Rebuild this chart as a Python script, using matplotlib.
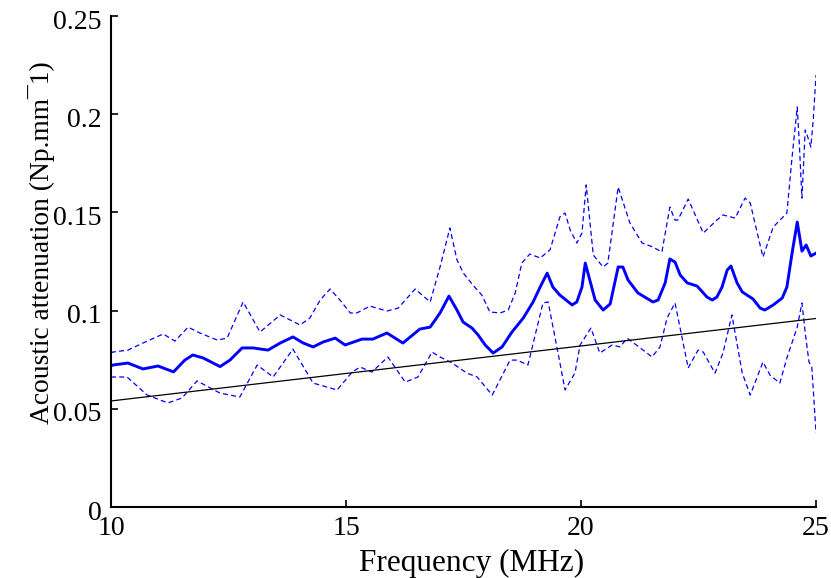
"""
Acoustic attenuation versus frequency: mean curve, spread bounds and linear fit.
"""
import numpy as np
import matplotlib
matplotlib.use('Agg')
import matplotlib.pyplot as plt
from matplotlib.transforms import ScaledTranslation

plt.rcParams['font.family'] = ['Liberation Serif', 'DejaVu Serif']

# mean attenuation (Np/mm)
freq_mean = [10.00, 10.04, 10.36, 10.68, 11.00, 11.33, 11.57, 11.74, 11.96, 12.32,
             12.53, 12.79, 13.02, 13.34, 13.60, 13.87, 14.09, 14.30, 14.51, 14.77,
             14.98, 15.34, 15.57, 15.87, 16.21, 16.57, 16.79, 17.00, 17.19, 17.36,
             17.49, 17.68, 17.81, 17.96, 18.13, 18.32, 18.53, 18.77, 18.98, 19.13,
             19.28, 19.40, 19.55, 19.81, 19.91, 20.02, 20.09, 20.30, 20.47, 20.62,
             20.79, 20.89, 21.00, 21.21, 21.53, 21.64, 21.79, 21.89, 22.00, 22.11,
             22.26, 22.47, 22.68, 22.79, 22.89, 23.00, 23.11, 23.19, 23.32, 23.43,
             23.66, 23.81, 23.91, 24.09, 24.28, 24.38, 24.49, 24.60, 24.70, 24.79,
             24.89, 25.00]
att_mean = [0.0718, 0.0723, 0.0733, 0.0703, 0.0718, 0.0688, 0.0748, 0.0774, 0.0759, 0.0715,
            0.0748, 0.0810, 0.0810, 0.0799, 0.0835, 0.0866, 0.0835, 0.0815, 0.0840, 0.0860,
            0.0825, 0.0855, 0.0855, 0.0886, 0.0835, 0.0906, 0.0916, 0.0988, 0.1074, 0.1003,
            0.0942, 0.0911, 0.0876, 0.0825, 0.0784, 0.0815, 0.0891, 0.0962, 0.1044, 0.1120,
            0.1191, 0.1120, 0.1079, 0.1029, 0.1044, 0.1120, 0.1242, 0.1054, 0.1003, 0.1034,
            0.1222, 0.1222, 0.1156, 0.1090, 0.1044, 0.1054, 0.1141, 0.1263, 0.1247, 0.1181,
            0.1141, 0.1125, 0.1069, 0.1054, 0.1069, 0.1120, 0.1207, 0.1227, 0.1141, 0.1095,
            0.1059, 0.1013, 0.1003, 0.1029, 0.1064, 0.1120, 0.1293, 0.1451, 0.1303, 0.1334,
            0.1278, 0.1293]

# upper bound
freq_up = [10.00, 10.04, 10.36, 10.68, 11.11, 11.36, 11.64, 11.89, 12.26, 12.47,
           12.81, 13.17, 13.60, 14.02, 14.23, 14.45, 14.66, 14.87, 15.09, 15.23,
           15.51, 15.87, 16.11, 16.47, 16.62, 16.79, 17.00, 17.21, 17.36, 17.50,
           17.70, 17.89, 18.06, 18.28, 18.45, 18.60, 18.74, 18.91, 19.13, 19.34,
           19.55, 19.66, 19.77, 19.91, 20.02, 20.11, 20.26, 20.47, 20.57, 20.79,
           21.04, 21.30, 21.53, 21.72, 21.89, 22.00, 22.06, 22.28, 22.60, 22.89,
           23.02, 23.28, 23.49, 23.60, 23.87, 24.09, 24.38, 24.49, 24.60, 24.64,
           24.70, 24.77, 24.83, 24.89, 24.94, 25.00]
att_up = [0.0785, 0.0789, 0.0799, 0.0835, 0.0881, 0.0845, 0.0916, 0.0886, 0.0850, 0.0860,
          0.1044, 0.0891, 0.0978, 0.0927, 0.0962, 0.1054, 0.1110, 0.1054, 0.0988, 0.0988,
          0.1023, 0.0998, 0.1013, 0.1110, 0.1079, 0.1044, 0.1222, 0.1421, 0.1258, 0.1190,
          0.1130, 0.1079, 0.0993, 0.0988, 0.1003, 0.1090, 0.1242, 0.1288, 0.1268, 0.1309,
          0.1477, 0.1497, 0.1410, 0.1344, 0.1395, 0.1640, 0.1283, 0.1222, 0.1242, 0.1629,
          0.1446, 0.1344, 0.1324, 0.1298, 0.1527, 0.1461, 0.1461, 0.1568, 0.1395, 0.1461,
          0.1487, 0.1471, 0.1573, 0.1548, 0.1273, 0.1426, 0.1497, 0.1782, 0.2037, 0.1869,
          0.1573, 0.1920, 0.1879, 0.1833, 0.1970, 0.2200]

# lower bound
freq_low = [10.00, 10.04, 10.34, 10.77, 11.21, 11.51, 11.83, 12.32, 12.74, 13.11,
            13.45, 13.87, 14.30, 14.81, 15.13, 15.30, 15.55, 15.89, 16.26, 16.53,
            16.83, 17.00, 17.26, 17.57, 17.79, 18.11, 18.49, 18.64, 18.87, 19.19,
            19.30, 19.49, 19.66, 19.87, 19.98, 20.21, 20.40, 20.66, 20.83, 20.98,
            21.26, 21.51, 21.68, 21.83, 22.00, 22.28, 22.49, 22.60, 22.85, 23.02,
            23.21, 23.43, 23.60, 23.87, 24.02, 24.23, 24.38, 24.60, 24.70, 24.77,
            24.85, 24.91, 25.00]
att_low = [0.0660, 0.0662, 0.0662, 0.0570, 0.0530, 0.0555, 0.0642, 0.0580, 0.0560, 0.0723,
           0.0662, 0.0804, 0.0631, 0.0596, 0.0687, 0.0713, 0.0687, 0.0764, 0.0636, 0.0662,
           0.0789, 0.0764, 0.0733, 0.0682, 0.0662, 0.0570, 0.0748, 0.0748, 0.0723, 0.1039,
           0.1044, 0.0810, 0.0596, 0.0682, 0.0825, 0.0911, 0.0784, 0.0825, 0.0815, 0.0860,
           0.0810, 0.0764, 0.0815, 0.0962, 0.1039, 0.0708, 0.0799, 0.0789, 0.0682, 0.0784,
           0.0978, 0.0682, 0.0570, 0.0738, 0.0672, 0.0631, 0.0759, 0.0916, 0.1039, 0.0886,
           0.0738, 0.0713, 0.0377]

# linear fit end points
freq_fit = [10.0, 25.0]
att_fit = [0.0540, 0.0960]

fig = plt.figure(figsize=(8.31, 5.78), dpi=100)
ax = fig.add_axes([0.1336, 0.1228, 0.8484, 0.8495])

blue = (0, 0, 1)
dash = dict(color=blue, lw=0.9, dashes=(4.0, 2.6), solid_joinstyle='round')
ax.plot(freq_up, att_up, **dash)
ax.plot(freq_low, att_low, **dash)
ax.plot(freq_fit, att_fit, color='black', lw=0.9)
ax.plot(freq_mean, att_mean, color=blue, lw=2.1, solid_joinstyle='round')

ax.set_xlim(10, 25)
ax.set_ylim(0, 0.25)
ax.set_xticks([10, 15, 20, 25])
ax.set_yticks([0, 0.05, 0.1, 0.15, 0.2, 0.25])
ax.set_yticklabels(['0', '0.05', '0.1', '0.15', '0.2', '0.25'])

for side in ('top', 'right'):
    ax.spines[side].set_visible(False)
for side in ('left', 'bottom'):
    ax.spines[side].set_linewidth(1.5)

ax.tick_params(direction='in', length=5, width=1.2, labelsize=20)
ax.tick_params(axis='y', pad=7)
ax.tick_params(axis='x', pad=6.5)

# y tick labels sit a little below their ticks
shift = ScaledTranslation(0, -3 / 100, fig.dpi_scale_trans)
for lab in ax.get_yticklabels():
    lab.set_transform(lab.get_transform() + shift)

ax.set_xlabel('Frequency (MHz)', fontsize=22.5)
ax.set_ylabel('Acoustic attenuation (Np.mm\u00af1)', fontsize=19.8)
ax.xaxis.set_label_coords(0.512, -0.086)
ax.yaxis.set_label_coords(-0.079, 0.5387)

fig.savefig('out.png', dpi=100)
